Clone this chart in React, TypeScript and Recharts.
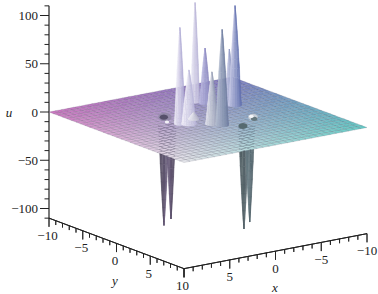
import { ScatterChart, Scatter, XAxis, YAxis } from "recharts";

const PX_PER_U = 0.965;
const AXIS_LEFT = 49;
const FONT = "Liberation Serif";

// u axis
const uTicks = [-110, -100, -90, -80, -70, -60, -50, -40, -30, -20, -10, 0, 10, 20, 30, 40, 50, 60, 70, 80, 90, 100, 110];
const uLabels = [-100, -50, 0, 50, 100];

// bottom axes
const xyTicks = [-10, -9, -8, -7, -6, -5, -4, -3, -2, -1, 0, 1, 2, 3, 4, 5, 6, 7, 8, 9, 10];
const yLabels = [-10, -5, 0, 5, 10];
const xLabels = [-10, -5, 0, 5];

// surface
const gridCount = 30;
const cornerLeft = [204, 118, 192];
const cornerBack = [128, 124, 194];
const cornerRight = [100, 204, 198];
const cornerFront = [232, 232, 236];

// tall peaks, back to front
const peakX = [-2.5, -3, -4.4, -4.8, 2.85, 2.2, 0.53, 0];
const peakY = [-5.3, -4.5, -2.8, -2.5, -0.3, 0.16, 1.3, 2.1];
const peakU = [103, 57, 58, 103, 100, 56, 54, 99];
const peakR = [0.44, 0.53, 0.44, 0.6, 0.52, 0.68, 0.6, 0.6];
const peakLight = ["#f0eef8", "#c4c2e6", "#d4d4ee", "#d8d8ee", "#f8f6fc", "#faf8fd", "#eeeef4", "#c0c8d8"];
const peakDark = ["#b4b0d4", "#8684bc", "#8692bc", "#5666a8", "#aaa4d0", "#b4b0d6", "#8c94ae", "#66769a"];

// downward spikes
const pitX = [4.2, 3.11, -1.2, -2.2];
const pitY = [-0.83, -1.27, 3.7, 3.2];
const pitU = [-104, -100.5, -105.7, -101.6];
const pitR = [0.52, 0.48, 0.52, 0.48];
const pitLight = ["#4c4458", "#6c6080", "#48585c", "#6c8088"];
const pitDark = ["#6e6280", "#544a62", "#606e74", "#4e6068"];

// spike outline, share of the height and share of the radius
const profileH = [0, 0.03, 0.07, 0.12, 0.2, 0.29, 0.38, 0.47, 0.56, 0.65, 0.74, 0.82, 0.9, 0.96, 1];
const profileR = [1, 0.95, 0.9, 0.86, 0.8, 0.72, 0.67, 0.57, 0.51, 0.41, 0.33, 0.23, 0.15, 0.06, 0];

// small bump at the front of the peaks
const bumpX = [0.9];
const bumpY = [-0.9];
const bumpU = [7];
const bumpR = [0.5];

// craters on the sheet
const patchX = [2.58, 2.7, 3.4, -1.32, -3.78, -3.5, -3.78];
const patchY = [-2.88, -2.88, -1.47, 3.39, 1.53, 2.1, 1.3];
const patchR = [0.62, 0.38, 0.2, 0.42, 0.44, 0.3, 0.22];
const patchFill = ["#938aa8", "#56506a", "#f2f0f6", "#566a70", "#c8ced6", "#66787e", "#f4f6f8"];

type Pt = [number, number];
type Facet = { h: number; v: number; poly: Pt[]; fill: string; stroke: string; sw: number };

const hOf = (x: number, y: number) => AXIS_LEFT + (10 - x) * 9.15 + (y + 10) * 6.75;
const vOf = (x: number, y: number, u: number) =>
  u + ((10 - x) * 1.75 - (y + 10) * 2.525) / PX_PER_U;
const proj = (x: number, y: number, u: number): Pt => [hOf(x, y), vOf(x, y, u)];

const mix = (a: number[], b: number[], t: number) => a.map((c, i) => c + (b[i] - c) * t);
const rgb = (c: number[]) => `rgb(${c.map((n) => Math.round(n)).join(",")})`;
const hex = (s: string) => [1, 3, 5].map((i) => parseInt(s.slice(i, i + 2), 16));

const facet = (poly: Pt[], fill: string, stroke = "none", sw = 0): Facet => ({
  h: poly[0][0],
  v: poly[0][1],
  poly,
  fill,
  stroke,
  sw,
});

const buildSheet = () => {
  const out: Facet[] = [];
  const step = 20 / gridCount;
  for (let i = 0; i < gridCount; i++) {
    for (let j = 0; j < gridCount; j++) {
      const x = -10 + i * step;
      const y = -10 + j * step;
      const s = (i + 0.5) / gridCount; // towards x = 10
      const t = (j + 0.5) / gridCount; // towards y = 10
      const fill = mix(mix(cornerBack, cornerLeft, s), mix(cornerRight, cornerFront, s), t);
      out.push(
        facet(
          [proj(x, y, 0), proj(x + step, y, 0), proj(x + step, y + step, 0), proj(x, y + step, 0)],
          rgb(fill),
          "rgba(70,70,90,0.3)",
          0.5,
        ),
      );
    }
  }
  return out;
};

const buildSpike = (x: number, y: number, u: number, r: number, light: string, dark: string) => {
  const out: Facet[] = [];
  const a = hex(light);
  const b = hex(dark);
  const cols = 8;
  const hx = hOf(x, y);
  const ring = (k: number, t: number): Pt => {
    const rad = r * profileR[k];
    const ang = Math.PI * t;
    return [
      hx - Math.cos(ang) * rad * 11,
      vOf(x, y, u * profileH[k]) - (Math.sin(ang) * rad * 3.2) / PX_PER_U,
    ];
  };
  for (let k = 0; k < profileH.length - 1; k++) {
    for (let c = 0; c < cols; c++) {
      const t0 = c / cols;
      const t1 = (c + 1) / cols;
      const shade = rgb(mix(a, b, (t0 + t1) / 2));
      out.push(facet([ring(k, t0), ring(k, t1), ring(k + 1, t1), ring(k + 1, t0)], shade, shade, 0.3));
    }
  }
  return out;
};

const buildPatches = () =>
  patchX.map((x, i) => {
    const poly: Pt[] = [];
    for (let a = 0; a < 12; a++) {
      const ang = (a / 12) * Math.PI * 2;
      poly.push([
        hOf(x, patchY[i]) + Math.cos(ang) * patchR[i] * 11,
        vOf(x, patchY[i], 0) + (Math.sin(ang) * patchR[i] * 7) / PX_PER_U,
      ]);
    }
    return facet(poly, patchFill[i]);
  });

const sheetData = buildSheet();
const patchData = buildPatches();
const pitData = pitX.flatMap((x, i) => buildSpike(x, pitY[i], pitU[i], pitR[i], pitLight[i], pitDark[i]));
const peakData = [
  ...peakX.flatMap((x, i) => buildSpike(x, peakY[i], peakU[i], peakR[i], peakLight[i], peakDark[i])),
  ...bumpX.flatMap((x, i) => buildSpike(x, bumpY[i], bumpU[i], bumpR[i], "#f4f4f8", "#b4b4c8")),
];

const line = (a: Pt, b: Pt, sw = 1) => facet([a, b], "none", "#222", sw);

const axisData = [
  line(proj(10, -10, 110), proj(10, -10, -110), 1.2),
  line(proj(10, -10, -110), proj(10, 10, -110)),
  line(proj(10, 10, -110), proj(-10, 10, -110)),
  ...xyTicks.map((y) => {
    const p = proj(10, y, -110);
    return line(p, [p[0], p[1] - (y % 5 === 0 ? 9 : 4.5)], 0.9);
  }),
  ...xyTicks.map((x) => {
    const p = proj(x, 10, -110);
    return line(p, [p[0], p[1] - (x % 5 === 0 ? 9 : 4.5)], 0.9);
  }),
];

const labelPoint = (px: number, py: number, text: string, italic = false) => ({
  h: px,
  v: (112 - py) / PX_PER_U,
  text,
  italic,
});
const minus = (n: number) => (n < 0 ? `\u2212${-n}` : `${n}`);
const labelData = [
  ...yLabels.map((y) => {
    const p = proj(10, y, -110);
    return labelPoint(p[0] - 1.5, 112 - p[1] * PX_PER_U + 17, minus(y));
  }),
  ...xLabels.map((x) => {
    const p = proj(x, 10, -110);
    return labelPoint(p[0], 112 - p[1] * PX_PER_U + 17, minus(x));
  }),
  labelPoint(9, 112, "u", true),
  labelPoint(115, 280, "y", true),
  labelPoint(275, 287, "x", true),
];

const FacetShape = (props: any) => {
  const { cx, cy, payload } = props;
  const pts = payload.poly.map(
    (p: Pt) => `${cx + p[0] - payload.h},${cy - (p[1] - payload.v) * PX_PER_U}`,
  );
  return <polygon points={pts.join(" ")} fill={payload.fill} stroke={payload.stroke} strokeWidth={payload.sw} />;
};

const LabelShape = (props: any) => {
  const { cx, cy, payload } = props;
  return (
    <text
      x={cx}
      y={cy}
      textAnchor="middle"
      dominantBaseline="central"
      fontFamily={FONT}
      fontSize={13}
      fontStyle={payload.italic ? "italic" : "normal"}
      fill="#222"
    >
      {payload.text}
    </text>
  );
};

const UTick = (props: any) => {
  const { y, payload } = props;
  const major = uLabels.includes(payload.value);
  return (
    <g>
      <line x1={AXIS_LEFT - (major ? 9 : 4.5)} y1={y} x2={AXIS_LEFT} y2={y} stroke="#222" strokeWidth={1} />
      {major && (
        <text x={AXIS_LEFT - 11} y={y} textAnchor="end" dominantBaseline="central" fontFamily={FONT} fontSize={13} fill="#222">
          {minus(payload.value)}
        </text>
      )}
    </g>
  );
};

const App = () => {
  return (
    <div style={{ position: "absolute", left: 0, top: 0 }}>
      <ScatterChart width={378} height={294} margin={{ top: 0, right: 0, bottom: 0, left: 0 }}>
        <XAxis type="number" dataKey="h" domain={[1, 378]} hide />
        <YAxis
          type="number"
          dataKey="v"
          domain={[(112 - 294) / PX_PER_U, 112 / PX_PER_U]}
          width={1}
          ticks={uTicks}
          interval={0}
          axisLine={false}
          tickLine={false}
          tickSize={0}
          tickMargin={0}
          tick={UTick}
        />
        <Scatter data={axisData} shape={FacetShape} isAnimationActive={false} />
        <Scatter data={pitData} shape={FacetShape} isAnimationActive={false} />
        <Scatter data={sheetData} shape={FacetShape} isAnimationActive={false} />
        <Scatter data={patchData} shape={FacetShape} isAnimationActive={false} />
        <Scatter data={peakData} shape={FacetShape} isAnimationActive={false} />
        <Scatter data={labelData} shape={LabelShape} isAnimationActive={false} />
      </ScatterChart>
    </div>
  );
};

export default App;
